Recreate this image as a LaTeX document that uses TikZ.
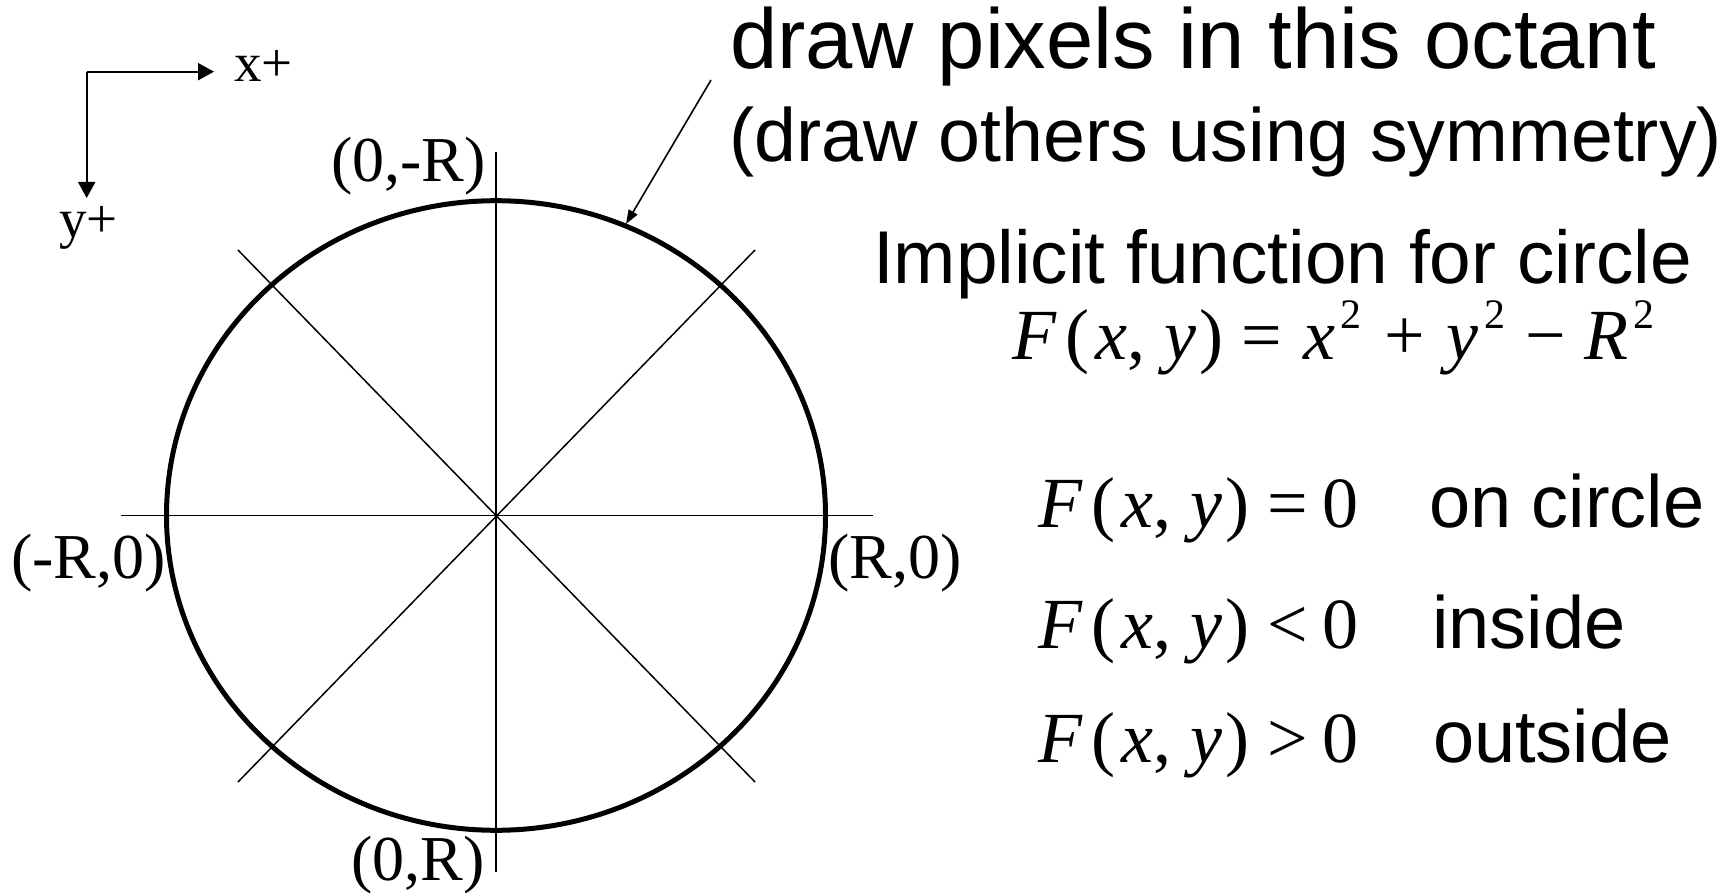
\documentclass[tikz,border=0pt]{standalone}
\usepackage{fontspec}
\setmainfont{Liberation Serif}
\newfontfamily\sansf{Liberation Sans}
\usetikzlibrary{arrows.meta}
\newcommand\vi[1]{\textit{#1}}
\newcommand\Fxy{\vi{F}\kern.118em(\kern.09em\vi{x}\kern.0em,\kern.26em\vi{y}\kern.05em)}
\newcommand\sq{\raisebox{.43em}{\fontsize{21pt}{21pt}\selectfont 2}}
\begin{document}
\begin{tikzpicture}[x=0.5pt,y=-0.5pt,
  thinline/.style={line width=0.75pt},
  thickline/.style={line width=2.5pt},
  axarrow/.style={line width=1pt,-{Triangle[length=8pt,width=8.5pt]}},
  ptrarrow/.style={line width=0.8pt,-{Triangle[length=7pt,width=5pt]}},
  txt/.style={inner sep=0pt,outer sep=0pt,anchor=base west},
  lbl/.style={txt,font=\fontsize{32pt}{32pt}\selectfont},
  axlbl/.style={txt,font=\fontsize{27.5pt}{27.5pt}\selectfont},
  big/.style={txt,font=\sansf\fontsize{42.5pt}{42.5pt}\selectfont},
  mid/.style={txt,font=\sansf\fontsize{37pt}{37pt}\selectfont},
  fml/.style={txt,font=\fontsize{36pt}{36pt}\selectfont}]
\useasboundingbox (0,0) rectangle (1729,893);
% axes indicator
\coordinate (org) at (86.7,71.7);
\coordinate (xtip) at (214,71.7);
\coordinate (ytip) at (86.7,198);
\draw[axarrow] (org) -- (xtip);
\draw[axarrow] (org) -- (ytip);
\node[axlbl] (xl) at (234,82) {x+};
\node[axlbl] (yl) at (59,238) {y+};
% circle and lines
\coordinate (c) at (496,515.5);
\coordinate (vt) at (496,152);
\coordinate (vb) at (496,872);
\coordinate (hl) at (120.5,515.5);
\coordinate (hr) at (872.5,515.5);
\coordinate (d1) at (238,250);
\coordinate (d2) at (755,782);
\coordinate (d3) at (755,250);
\coordinate (d4) at (238,782);
\draw[thinline] (vt) -- (vb);
\draw[thinline] (hl) -- (hr);
\draw[thinline] (d1) -- (d2);
\draw[thinline] (d3) -- (d4);
\draw[thickline] (c) ellipse [x radius=329.5, y radius=314.8];
% labels
\node[lbl] (top) at (331,182) {(0,-R)};
\node[lbl] (left) at (11,578) {(-R,0)};
\node[lbl] (right) at (828,578) {(R,0)};
\node[lbl] (bot) at (351,880) {(0,R)};
% pointer
\coordinate (ps) at (711,80);
\coordinate (pe) at (626,224);
\draw[ptrarrow] (ps) -- (pe);
% right texts
\node[big] (t1) at (730,69) {draw pixels in this octant};
\node[txt,font=\sansf\fontsize{37.7pt}{37.7pt}\selectfont] (t2) at (729,162) {(draw others using symmetry)};
\node[txt,font=\sansf\fontsize{37.4pt}{37.4pt}\selectfont] (t3) at (873,284) {Implicit function for circle};
\node[fml] (f0) at (1012,359) {\Fxy\kern.25em=\kern.3em\vi{x}\kern.07em\sq\kern.31em+\kern.3em\vi{y}\kern.08em\sq\kern.28em−\kern.25em\vi{R}\kern.07em\sq};
\node[fml] (f1) at (1038,527) {\Fxy\kern.25em=\kern.2em0};
\node[fml] (f2) at (1038,648) {\Fxy\kern.25em<\kern.2em0};
\node[fml] (f3) at (1038,762) {\Fxy\kern.25em>\kern.2em0};
\node[mid] (w1) at (1429,527) {on circle};
\node[mid] (w2) at (1432,648) {inside};
\node[mid] (w3) at (1433,762) {outside};
\end{tikzpicture}
\end{document}
